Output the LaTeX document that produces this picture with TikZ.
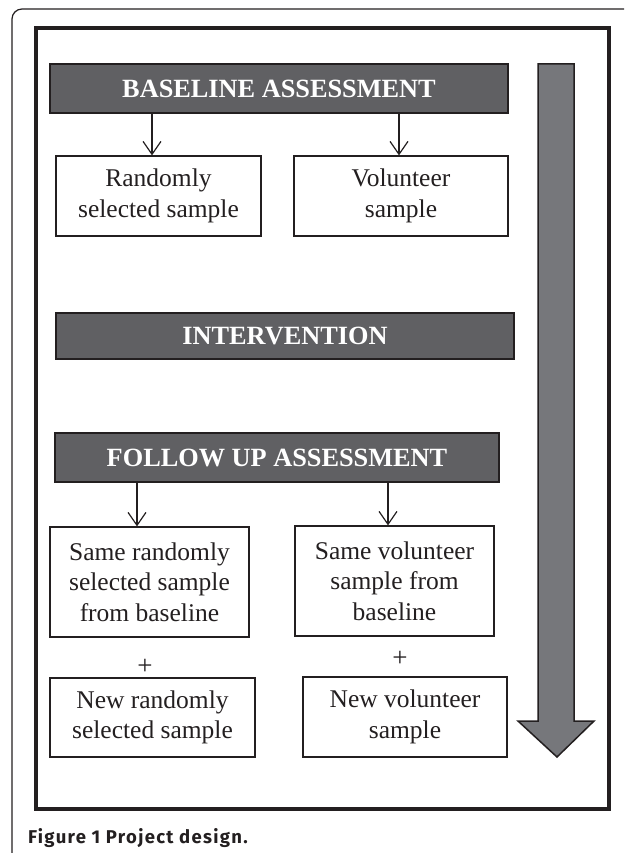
\documentclass[tikz,border=0pt]{standalone}
\usepackage{fontspec}
\setmainfont{Liberation Serif}
\newfontfamily\capfont[LetterSpace=7]{Fira Sans}
\usetikzlibrary{arrows.meta}
\definecolor{banfill}{RGB}{96,96,99}
\definecolor{arrfill}{RGB}{118,119,123}
\definecolor{ink}{RGB}{35,31,32}
\tikzset{
  banner/.style={draw=ink, line width=1.5pt, fill=banfill, text=white, font=\fontsize{26.3}{28}\selectfont\bfseries, inner sep=0pt},
  sbox/.style={draw=ink, line width=1.2pt, fill=white, align=center, font=\fontsize{25.5}{30.5}\selectfont, inner sep=0pt, text=ink},
  arr/.style={draw=ink, line width=1.2pt, -{Straight Barb[length=13pt,width=18pt,line width=1.2pt]}},
  plus/.style={font=\fontsize{27}{30}\selectfont, text=ink, inner sep=0pt}
}
\begin{document}
\begin{tikzpicture}[x=1pt,y=-1pt]
\useasboundingbox (0,0) rectangle (624,853);
\clip (0,0) rectangle (624,853);
% outer frame
\draw[ink, line width=1.2pt, rounded corners=10pt] (640,9) -- (12,9) -- (12,870);
% inner thick box
\draw[ink, line width=4pt] (36,28) rectangle (609,809);
% big arrow
\draw[ink, line width=1.5pt, fill=arrfill, line join=miter] (538,64) -- (574,64) -- (574,721) -- (594,721) -- (557,757) -- (518,721) -- (538,721) -- cycle;
% banners
\node[banner, minimum width=458pt, minimum height=49pt] (base) at (279,88.5) {BASELINE ASSESSMENT};
\node[banner, minimum width=458pt, minimum height=46pt] (int) at (285,336) {INTERVENTION};
\node[banner, minimum width=444pt, minimum height=49pt] (fu) at (277,457.5) {FOLLOW UP ASSESSMENT};
% boxes
\node[sbox, minimum width=205pt, minimum height=80pt] (rs) at (158.5,196) {Randomly\\selected sample};
\node[sbox, minimum width=214pt, minimum height=80pt] (vs) at (401,196) {Volunteer\\sample};
\node[sbox, minimum width=199pt, minimum height=110pt] (srs) at (149.5,582) {Same randomly\\selected sample\\from baseline};
\node[sbox, minimum width=199pt, minimum height=110pt] (svs) at (394.5,581) {Same volunteer\\sample from\\baseline};
\node[sbox, minimum width=205pt, minimum height=79pt] (nrs) at (152.5,717.5) {New randomly\\selected sample};
\node[sbox, minimum width=204pt, minimum height=80pt] (nvs) at (405,717) {New volunteer\\sample};
% plus signs
\node[plus] (p1) at (145,667) {+};
\node[plus] (p2) at (400,659) {+};
% connector x positions
\coordinate (a1) at (152,0);
\coordinate (a2) at (399,0);
\coordinate (a3) at (137,0);
\coordinate (a4) at (388,0);
\draw[arr] (base.south -| a1) -- (rs.north -| a1);
\draw[arr] (base.south -| a2) -- (vs.north -| a2);
\draw[arr] (fu.south -| a3) -- (srs.north -| a3);
\draw[arr] (fu.south -| a4) -- (svs.north -| a4);
% caption
\node[anchor=base west, inner sep=0pt, font=\capfont\fontsize{18.5}{21}\selectfont\bfseries, text=ink] (cap) at (28,843) {Figure 1 Project design.};
\end{tikzpicture}
\end{document}
